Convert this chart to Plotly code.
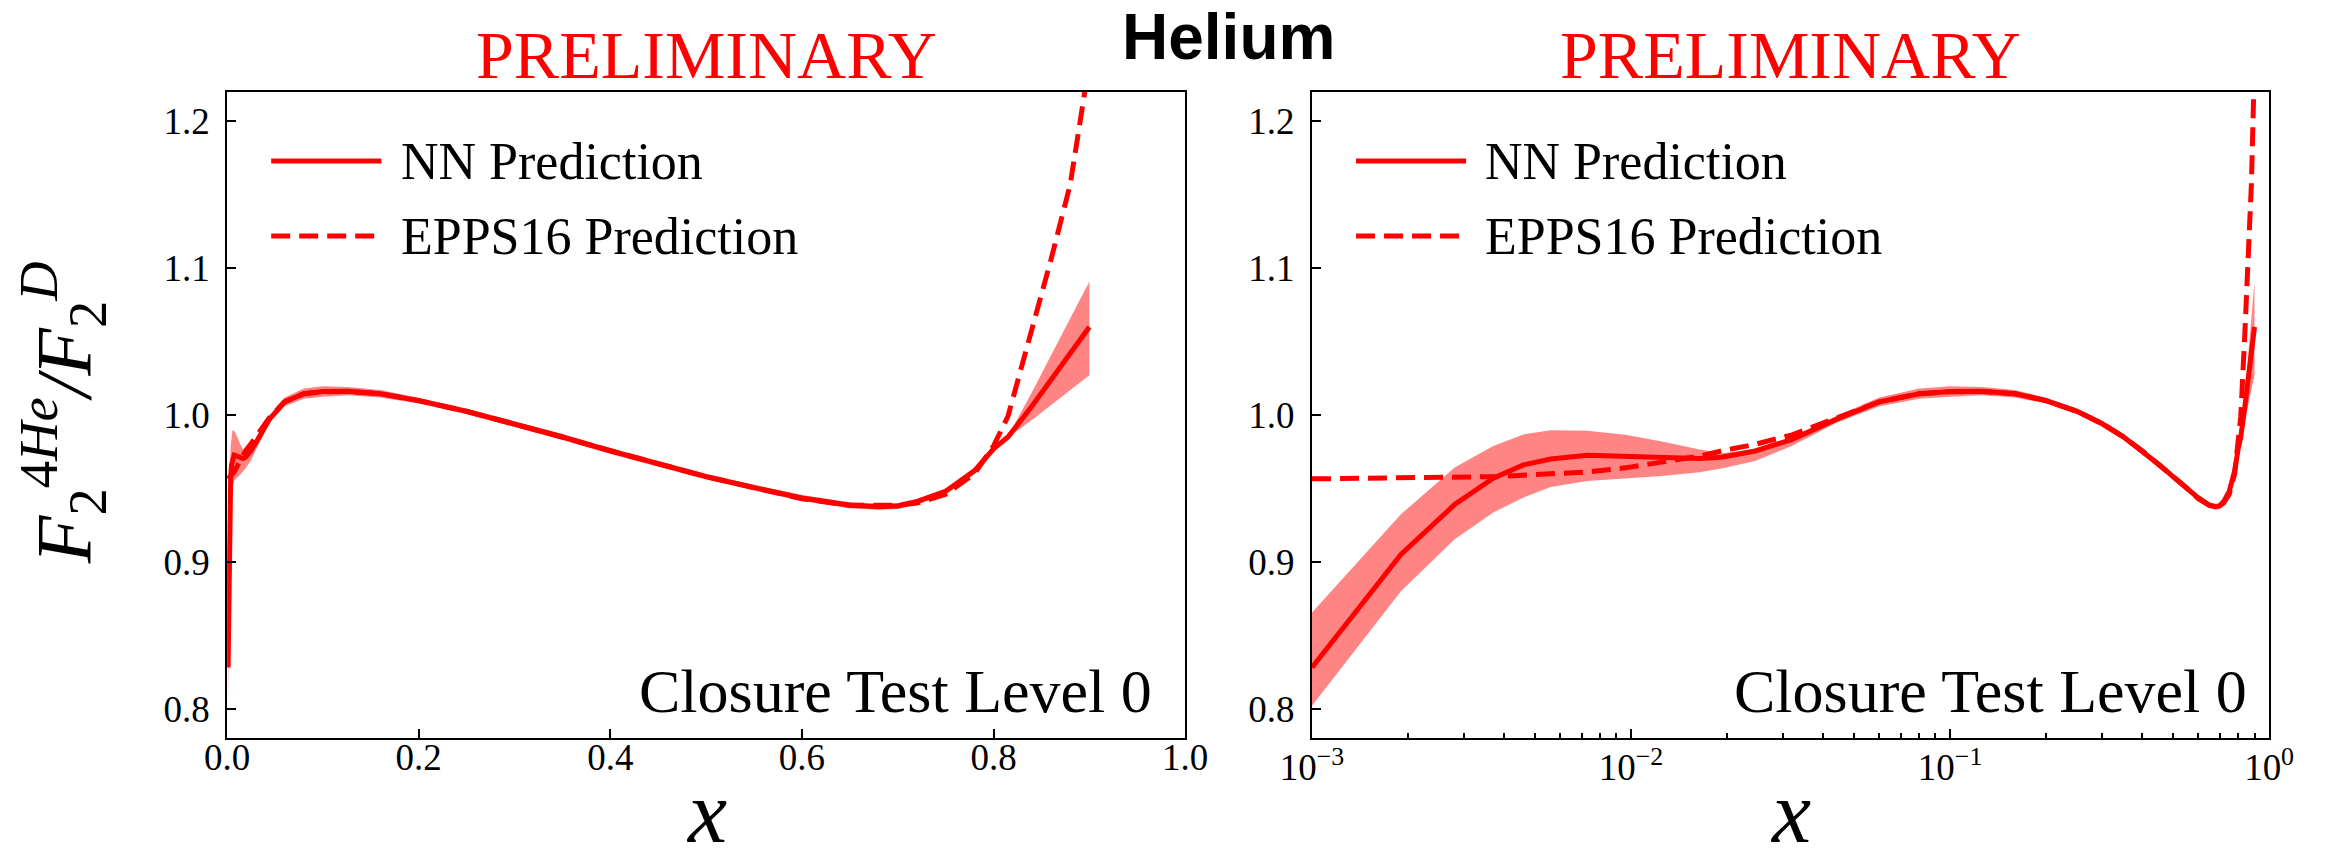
import plotly.graph_objects as go

# ---------------- data ----------------
x_vals = [0.001, 0.0019, 0.0028, 0.0037, 0.0046, 0.0056, 0.0073, 0.0096, 0.0125,
          0.0164, 0.0192, 0.0245, 0.032, 0.044, 0.06, 0.08, 0.1, 0.126, 0.16, 0.2,
          0.25, 0.3, 0.35, 0.4, 0.45, 0.5, 0.55, 0.6, 0.65, 0.68, 0.7, 0.72, 0.75,
          0.78, 0.8, 0.815, 0.84, 0.86, 0.88, 0.9]

nn_central = [0.828, 0.905, 0.939, 0.957, 0.966, 0.970, 0.9726, 0.9721, 0.971,
              0.9703, 0.9712, 0.9755, 0.9834, 0.997, 1.009, 1.0145, 1.016, 1.0162,
              1.0145, 1.0098, 1.0025, 0.994, 0.985, 0.9755, 0.9665, 0.958, 0.9505,
              0.9435, 0.9385, 0.9375, 0.938, 0.941, 0.948, 0.962, 0.977, 0.985,
              1.006, 1.024, 1.042, 1.060]

nn_upper = [0.8655, 0.9324, 0.9642, 0.9789, 0.9868, 0.9896, 0.9892, 0.9865, 0.982,
            0.9765, 0.974, 0.9766, 0.9846, 0.9993, 1.012, 1.018, 1.0195, 1.019,
            1.017, 1.0118, 1.0045, 0.996, 0.987, 0.9775, 0.9685, 0.960, 0.9525,
            0.9455, 0.9405, 0.9395, 0.940, 0.943, 0.950, 0.964, 0.9785, 0.9855,
            1.0155, 1.0406, 1.0658, 1.091]

nn_lower = [0.802, 0.880, 0.9154, 0.9336, 0.9438, 0.951, 0.955, 0.957, 0.9585,
            0.961, 0.9635, 0.9687, 0.979, 0.9948, 1.006, 1.011, 1.0125, 1.0135,
            1.012, 1.0078, 1.0005, 0.992, 0.983, 0.9735, 0.9645, 0.956, 0.9485,
            0.9415, 0.9365, 0.9355, 0.936, 0.939, 0.946, 0.960, 0.9755, 0.9845,
            0.9966, 1.0068, 1.017, 1.027]

epps16 = [0.9565, 0.957, 0.9575, 0.958, 0.959, 0.960, 0.9612, 0.964, 0.9676,
          0.972, 0.9755, 0.980, 0.9865, 0.998, 1.009, 1.0145, 1.0158, 1.016,
          1.0145, 1.0098, 1.0025, 0.994, 0.985, 0.9757, 0.9667, 0.958, 0.9505,
          0.943, 0.9385, 0.938, 0.9385, 0.940, 0.946, 0.960, 0.979, 0.999,
          1.057, 1.106, 1.157, 1.240]

log_tick_vals = [0.001, 0.01, 0.1, 1.0]
log_tick_text = ["10<sup>\u22123</sup>", "10<sup>\u22122</sup>", "10<sup>\u22121</sup>", "10<sup>0</sup>"]
log_minor_vals = [m * 10.0 ** e for e in (-3, -2, -1) for m in range(2, 10)]
lin_tick_vals = [0.0, 0.2, 0.4, 0.6, 0.8, 1.0]
lin_tick_text = ["0.0", "0.2", "0.4", "0.6", "0.8", "1.0"]
y_tick_vals = [0.8, 0.9, 1.0, 1.1, 1.2]
y_tick_text = ["0.8", "0.9", "1.0", "1.1", "1.2"]

# ---------------- style ----------------
W, H = 2338, 863
RED = "#ff0000"
BAND = "rgba(255,0,0,0.48)"
SERIF = "Liberation Serif, Times New Roman, serif"
DASH = "19px,9px"

fig = go.Figure()

for xa, ya in (("x", "y"), ("x2", "y2")):
    fig.add_trace(go.Scatter(x=x_vals, y=nn_lower, mode="lines", line=dict(width=0, color=BAND),
                             xaxis=xa, yaxis=ya, showlegend=False, hoverinfo="skip"))
    fig.add_trace(go.Scatter(x=x_vals, y=nn_upper, mode="lines", line=dict(width=0, color=BAND),
                             fill="tonexty", fillcolor=BAND,
                             xaxis=xa, yaxis=ya, showlegend=False, hoverinfo="skip"))
    fig.add_trace(go.Scatter(x=x_vals, y=epps16, mode="lines", name="EPPS16 Prediction",
                             line=dict(color=RED, width=5, dash=DASH),
                             xaxis=xa, yaxis=ya, showlegend=False))
    fig.add_trace(go.Scatter(x=x_vals, y=nn_central, mode="lines", name="NN Prediction",
                             line=dict(color=RED, width=5),
                             xaxis=xa, yaxis=ya, showlegend=False))

axis_common = dict(showline=True, linecolor="black", linewidth=2, mirror=True,
                   showgrid=False, zeroline=False, ticks="inside", ticklen=9, tickwidth=2,
                   tickcolor="black", tickfont=dict(family=SERIF, size=37, color="black"))

xd1 = [200 / W, 1182 / W]
xd2 = [1312 / W, 2293 / W]
yd = [(H - 738) / H, (H - 92) / H]

fig.update_layout(
    width=W, height=H,
    margin=dict(l=0, r=0, t=0, b=0),
    paper_bgcolor="white", plot_bgcolor="white",
    xaxis=dict(domain=xd1, range=[0, 1.0], tickmode="array", tickvals=lin_tick_vals,
               ticktext=lin_tick_text, anchor="y", ticklabelstandoff=-14, **axis_common),
    yaxis=dict(domain=yd, range=[0.78, 1.22], tickmode="array", tickvals=y_tick_vals,
               ticktext=y_tick_text, anchor="x", ticklabelstandoff=8, **axis_common),
    xaxis2=dict(domain=xd2, type="log", range=[-3, 0], tickmode="array", tickvals=log_tick_vals,
                ticktext=log_tick_text, anchor="y2", ticklabelstandoff=-4,
                minor=dict(ticks="inside", ticklen=5, tickwidth=1.5, tickcolor="black",
                           tickmode="array", tickvals=log_minor_vals, showgrid=False),
                **axis_common),
    yaxis2=dict(domain=yd, range=[0.78, 1.22], tickmode="array", tickvals=y_tick_vals,
                ticktext=y_tick_text, anchor="x2", ticklabelstandoff=8, **axis_common),
)

annotations = []
shapes = []
for xa, ya, close_x in (("x", "y", 0.967), ("x2", "y2", 0.979)):
    xr, yr = xa + " domain", ya + " domain"
    shapes.append(dict(type="line", xref=xr, yref=yr, x0=0.046, x1=0.161, y0=0.893, y1=0.893,
                       line=dict(color=RED, width=5)))
    shapes.append(dict(type="line", xref=xr, yref=yr, x0=0.046, x1=0.161, y0=0.777, y1=0.777,
                       line=dict(color=RED, width=5, dash=DASH)))
    annotations.append(dict(xref=xr, yref=yr, x=0.179, y=0.893, xanchor="left", yanchor="middle",
                            text="NN Prediction", showarrow=False,
                            font=dict(family=SERIF, size=52, color="black")))
    annotations.append(dict(xref=xr, yref=yr, x=0.179, y=0.777, xanchor="left", yanchor="middle",
                            text="EPPS16 Prediction", showarrow=False,
                            font=dict(family=SERIF, size=52, color="black")))
    annotations.append(dict(xref=xr, yref=yr, x=close_x, y=0.073, xanchor="right", yanchor="middle",
                            text="Closure Test Level 0", showarrow=False,
                            font=dict(family=SERIF, size=62, color="black")))
    annotations.append(dict(xref=xr, yref="paper", x=0.5, y=1 - 55 / H, xanchor="center",
                            yanchor="middle", text="PRELIMINARY", showarrow=False,
                            font=dict(family=SERIF, size=68, color=RED)))
    annotations.append(dict(xref=xr, yref="paper", x=0.5, y=0, xanchor="center",
                            yanchor="bottom", text="<i>x</i>", showarrow=False,
                            font=dict(family=SERIF, size=88, color="black")))

annotations.append(dict(xref="paper", yref="paper", x=1226 / W, y=1 - 37 / H, xanchor="center",
                        yanchor="middle", text="<b>Helium</b>", showarrow=False,
                        font=dict(family="Liberation Sans, Arial, sans-serif", size=64, color="black")))
annotations.append(dict(xref="paper", yref="paper", x=32 / W, y=1 - 413 / H, xanchor="center",
                        yanchor="middle", textangle=-90, showarrow=False,
                        text="<i>F</i><sub>2</sub><sup>4<i>He</i></sup><i>/F</i><sub>2</sub><sup><i>D</i></sup>",
                        font=dict(family=SERIF, size=78, color="black")))

fig.update_layout(annotations=annotations, shapes=shapes)
fig.write_html("out.html")
